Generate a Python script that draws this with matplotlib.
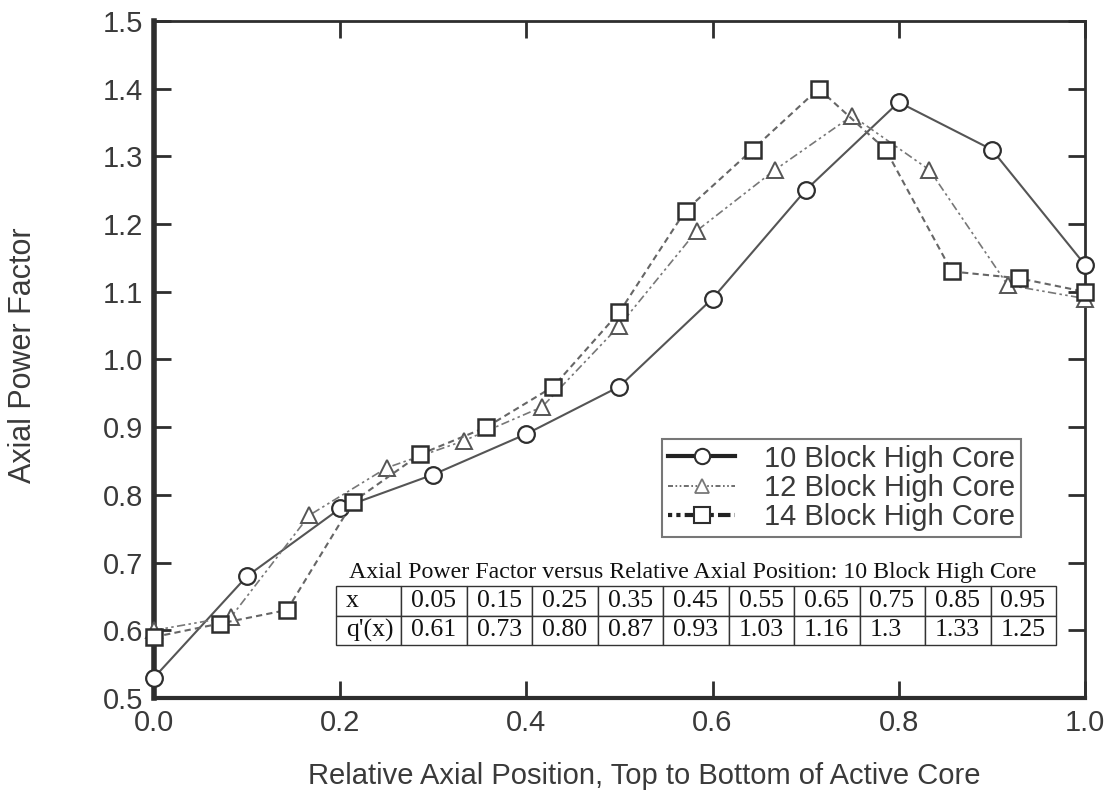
import matplotlib
matplotlib.use("Agg")
import matplotlib.pyplot as plt
from matplotlib.lines import Line2D

# ---- data ----
x10 = [0.0, 0.1, 0.2, 0.3, 0.4, 0.5, 0.6, 0.7, 0.8, 0.9, 1.0]
y10 = [0.53, 0.68, 0.78, 0.83, 0.89, 0.96, 1.09, 1.25, 1.38, 1.31, 1.14]

x12 = [0.0, 0.083, 0.167, 0.25, 0.333, 0.417, 0.5, 0.583, 0.667, 0.75, 0.833, 0.917, 1.0]
y12 = [0.60, 0.62, 0.77, 0.84, 0.88, 0.93, 1.05, 1.19, 1.28, 1.36, 1.28, 1.11, 1.09]

x14 = [0.0, 0.071, 0.143, 0.214, 0.286, 0.357, 0.429, 0.5, 0.571, 0.643, 0.714, 0.786, 0.857, 0.929, 1.0]
y14 = [0.59, 0.61, 0.63, 0.79, 0.86, 0.90, 0.96, 1.07, 1.22, 1.31, 1.40, 1.31, 1.13, 1.12, 1.10]

labels = ["10 Block High Core", "12 Block High Core", "14 Block High Core"]

table_title = "Axial Power Factor versus Relative Axial Position: 10 Block High Core"
table_x = ["0.05", "0.15", "0.25", "0.35", "0.45", "0.55", "0.65", "0.75", "0.85", "0.95"]
table_q = ["0.61", "0.73", "0.80", "0.87", "0.93", "1.03", "1.16", "1.3", "1.33", "1.25"]

xticks = [0.0, 0.2, 0.4, 0.6, 0.8, 1.0]
yticks = [0.5, 0.6, 0.7, 0.8, 0.9, 1.0, 1.1, 1.2, 1.3, 1.4, 1.5]

# ---- style ----
plt.rcParams['font.family'] = ['Liberation Sans', 'DejaVu Sans']
txt = '#3a3a3a'
edge = '#2e2e2e'

fig = plt.figure(figsize=(11.15, 7.91), dpi=100)
ax = fig.add_axes([0.1381, 0.1176, 0.8349, 0.8559])

ms = 12
ax.plot(x10, y10, color='#555555', lw=1.5, ls='-', marker='o', ms=ms,
        mfc='white', mec=edge, mew=1.6, zorder=3, clip_on=False)
ax.plot(x12, y12, color='#777777', lw=1.2, ls=(0, (5, 2, 1.5, 2, 1.5, 2)), marker='^',
        ms=ms - 1, mfc='white', mec='#555555', mew=1.4, zorder=3, clip_on=False)
ax.plot(x14, y14, color='#666666', lw=1.5, ls=(0, (3, 2)), marker='s', ms=ms,
        mfc='white', mec=edge, mew=1.8, zorder=4, clip_on=False)

ax.set_xlim(0, 1.0)
ax.set_ylim(0.5, 1.5)
ax.set_xticks(xticks)
ax.set_yticks(yticks)
ax.set_xticklabels([f"{v:.1f}" for v in xticks])
ax.set_yticklabels([f"{v:.1f}" for v in yticks])
ax.tick_params(direction='in', length=12, width=2, color=edge, labelsize=21,
               labelcolor=txt, top=True, right=True, pad=8)
ax.tick_params(axis='y', pad=8)
for side, w in (('left', 4), ('bottom', 3), ('top', 2), ('right', 2)):
    ax.spines[side].set_linewidth(w)
    ax.spines[side].set_color(edge)

ax.set_xlabel("Relative Axial Position, Top to Bottom of Active Core",
              fontsize=21, color=txt)
ax.xaxis.set_label_coords(0.527, -0.094)
ax.set_ylabel("Axial Power Factor", fontsize=22, color=txt)
ax.yaxis.set_label_coords(-0.125, 0.506)

# legend with heavier handles
h1 = Line2D([], [], color='#222222', lw=3, ls='-', marker='o', ms=11,
            mfc='white', mec=edge, mew=1.5)
h2 = Line2D([], [], color='#555555', lw=1.2, ls=(0, (3, 1.5, 1, 1.5, 1, 1.5)), marker='^',
            ms=10, mfc='white', mec='#777777', mew=1.3)
h3 = Line2D([], [], color='#222222', lw=3, ls=(0, (1, 1, 1, 1, 3, 1)), marker='s',
            ms=12, mfc='white', mec=edge, mew=1.5)
leg = ax.legend([h1, h2, h3], labels, loc='upper left',
                bbox_to_anchor=(0.546, 0.383), fontsize=21, frameon=True,
                fancybox=False, borderpad=0.2, labelspacing=0.05,
                handlelength=2.3, handletextpad=1.0, borderaxespad=0.0)
leg.get_frame().set_edgecolor('#555555')
leg.get_frame().set_linewidth(1.5)
for t in leg.get_texts():
    t.set_color(txt)

# table
cell = [["x"] + table_x, ["q'(x)"] + table_q]
tb = ax.table(cellText=cell, cellLoc='left', bbox=[0.1955, 0.078, 0.7735, 0.087])
tb.auto_set_font_size(False)
for (r, c), cl in tb.get_celld().items():
    cl.set_linewidth(1.0)
    cl.set_edgecolor('#333333')
    cl.PAD = 0.15
    cl.get_text().set_fontsize(18.5)
    cl.get_text().set_fontfamily('Liberation Serif')
    cl.get_text().set_color('#111111')
ax.text(0.579, 0.686, table_title, ha='center', va='center', fontsize=17.2,
        family='Liberation Serif', color='#111111')

fig.savefig("out.png", dpi=100, facecolor='white')
